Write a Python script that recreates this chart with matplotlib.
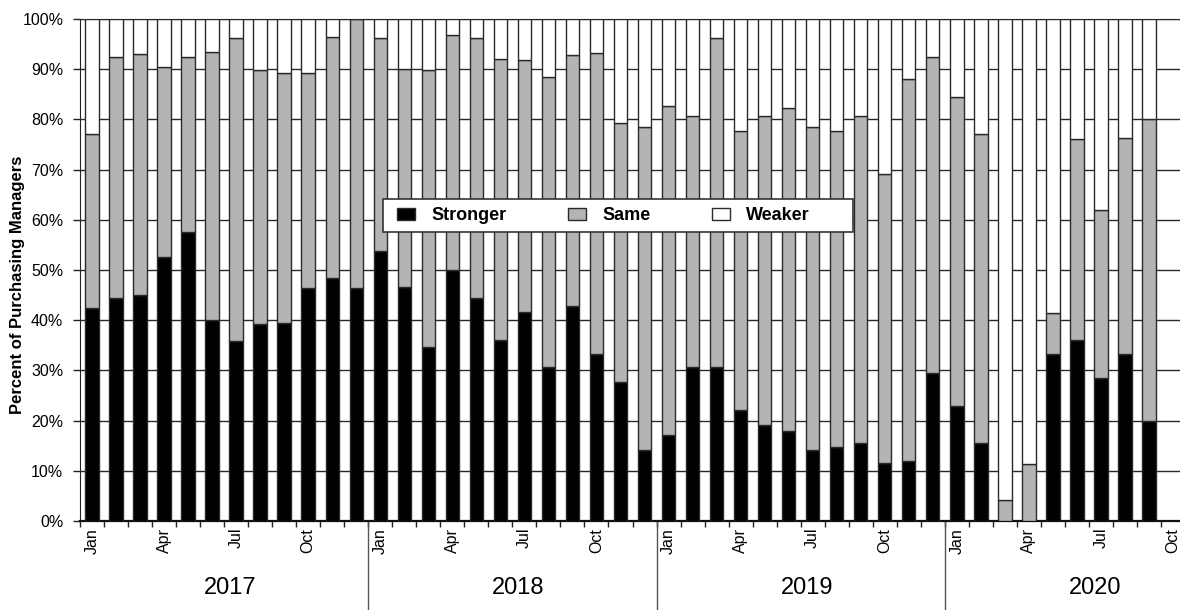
import numpy as np
import matplotlib
matplotlib.use("Agg")
import matplotlib.pyplot as plt
import matplotlib.transforms as mtransforms
from matplotlib.patches import Rectangle

plt.rcParams['font.family'] = ['Liberation Sans', 'DejaVu Sans']

# ---------------- data ----------------
years = ['2017', '2018', '2019', '2020']
months = ['Jan', 'Feb', 'Mar', 'Apr', 'May', 'Jun', 'Jul', 'Aug', 'Sep', 'Oct', 'Nov', 'Dec']
shown_months = ['Jan', 'Apr', 'Jul', 'Oct']
n_slots = 46  # Jan 2017 .. Oct 2020 (Oct 2020 has no data yet)

stronger = [42.4, 44.4, 45.0, 52.5, 57.5, 40.1, 35.9, 39.2, 39.4, 46.4, 48.4, 46.4,
            53.8, 46.7, 34.6, 50.0, 44.4, 36.1, 41.6, 30.7, 42.9, 33.3, 27.6, 14.2,
            17.2, 30.7, 30.7, 22.2, 19.2, 18.0, 14.2, 14.7, 15.5, 11.5, 12.0, 29.5,
            23.0, 15.5, 0.0, 0.0, 33.3, 36.1, 28.5, 33.3, 20.0]
same = [34.6, 48.1, 48.0, 38.0, 35.0, 53.3, 60.4, 50.6, 49.8, 42.8, 48.1, 53.6,
        42.5, 43.3, 55.2, 46.9, 51.9, 55.9, 50.2, 57.8, 49.9, 60.0, 51.6, 64.3,
        65.5, 50.0, 65.6, 55.5, 61.5, 64.3, 64.3, 63.0, 65.2, 57.7, 76.0, 63.0,
        61.5, 61.5, 4.1, 11.4, 8.2, 39.9, 33.4, 42.9, 60.0]
weaker = [23.0, 7.5, 7.0, 9.5, 7.5, 6.6, 3.7, 10.2, 10.8, 10.8, 3.5, 0.0,
          3.7, 10.0, 10.2, 3.1, 3.7, 8.0, 8.2, 11.5, 7.2, 6.7, 20.8, 21.5,
          17.3, 19.3, 3.7, 22.3, 19.3, 17.7, 21.5, 22.3, 19.3, 30.8, 12.0, 7.5,
          15.5, 23.0, 95.9, 88.6, 58.5, 24.0, 38.1, 23.8, 20.0]

series_names = ['Stronger', 'Same', 'Weaker']
series_colors = ['#000000', '#b4b4b4', '#ffffff']

# ---------------- figure ----------------
W, H = 1180, 610
fig = plt.figure(figsize=(W / 100, H / 100), dpi=100)
ax = fig.add_axes([80 / W, 89 / H, 1105 / W, 502 / H])

x = np.arange(len(stronger))
bw = 0.56
edge = '#2a2a2a'
b1 = ax.bar(x, stronger, width=bw, color=series_colors[0], edgecolor=edge, lw=1, zorder=3,
            label=series_names[0])
b2 = ax.bar(x, same, width=bw, bottom=stronger, color=series_colors[1], edgecolor=edge, lw=1,
            zorder=3, label=series_names[1])
b3 = ax.bar(x, weaker, width=bw, bottom=np.add(stronger, same), color=series_colors[2],
            edgecolor=edge, lw=1, zorder=3, label=series_names[2])

ax.set_xlim(-0.5, n_slots - 0.5)
ax.set_ylim(0, 100)

# y axis
yt = np.arange(0, 101, 10)
ax.set_yticks(yt)
ax.set_yticklabels([f'{v}%' for v in yt], fontsize=11.5)
ax.tick_params(axis='y', length=5, width=1, pad=7, color='#222')
ax.yaxis.grid(True, color='#2a2a2a', lw=1, zorder=0)
ax.set_axisbelow(True)

# x axis: month labels at slot centres, small ticks at slot boundaries
labels_pos, labels_txt = [], []
for i in range(n_slots):
    m = months[i % 12]
    if m in shown_months:
        labels_pos.append(i)
        labels_txt.append(m)
ax.set_xticks(labels_pos)
ax.set_xticklabels(labels_txt, rotation=90, fontsize=11.5)
ax.tick_params(axis='x', which='major', length=0, pad=5)
ax.set_xticks(np.arange(-0.5, n_slots, 1), minor=True)
ax.tick_params(axis='x', which='minor', length=4, width=1, color='#222')

ax.spines['right'].set_visible(False)
ax.spines['top'].set_color('#2a2a2a')
ax.spines['left'].set_color('#222')
ax.spines['bottom'].set_color('#111')
ax.spines['bottom'].set_linewidth(1.6)

# year labels and dividers
trans = mtransforms.blended_transform_factory(ax.transData, ax.transAxes)
for k, yr in enumerate(years):
    ax.text(12 * k + 5.75, -0.1335, yr, transform=trans, ha='center', va='center', fontsize=17)
    if k > 0:
        xb = 12 * k - 0.5
        ax.plot([xb, xb], [0, -0.2], transform=trans, clip_on=False, color='#555', lw=1)

# y label
fig.text(18 / W, 1 - 285 / H, 'Percent of Purchasing Managers', rotation=90,
         ha='center', va='center', fontsize=12, fontweight='bold')

# legend
leg = ax.legend(handles=[b1, b2, b3], loc='center left',
                bbox_to_anchor=(397 / W, 1 - 215.5 / H), bbox_transform=fig.transFigure,
                ncol=3, frameon=False, borderpad=0, borderaxespad=0,
                handlelength=1.0, handleheight=0.65, handletextpad=0.9, columnspacing=3.4,
                prop={'weight': 'bold', 'size': 13})
frame = Rectangle((383 / W, 1 - 232 / H), 470 / W, 33 / H, transform=fig.transFigure,
                  facecolor='white', edgecolor='#333', lw=1.2, zorder=4.5, clip_on=False)
ax.add_patch(frame)

fig.savefig('out.png', dpi=100)
